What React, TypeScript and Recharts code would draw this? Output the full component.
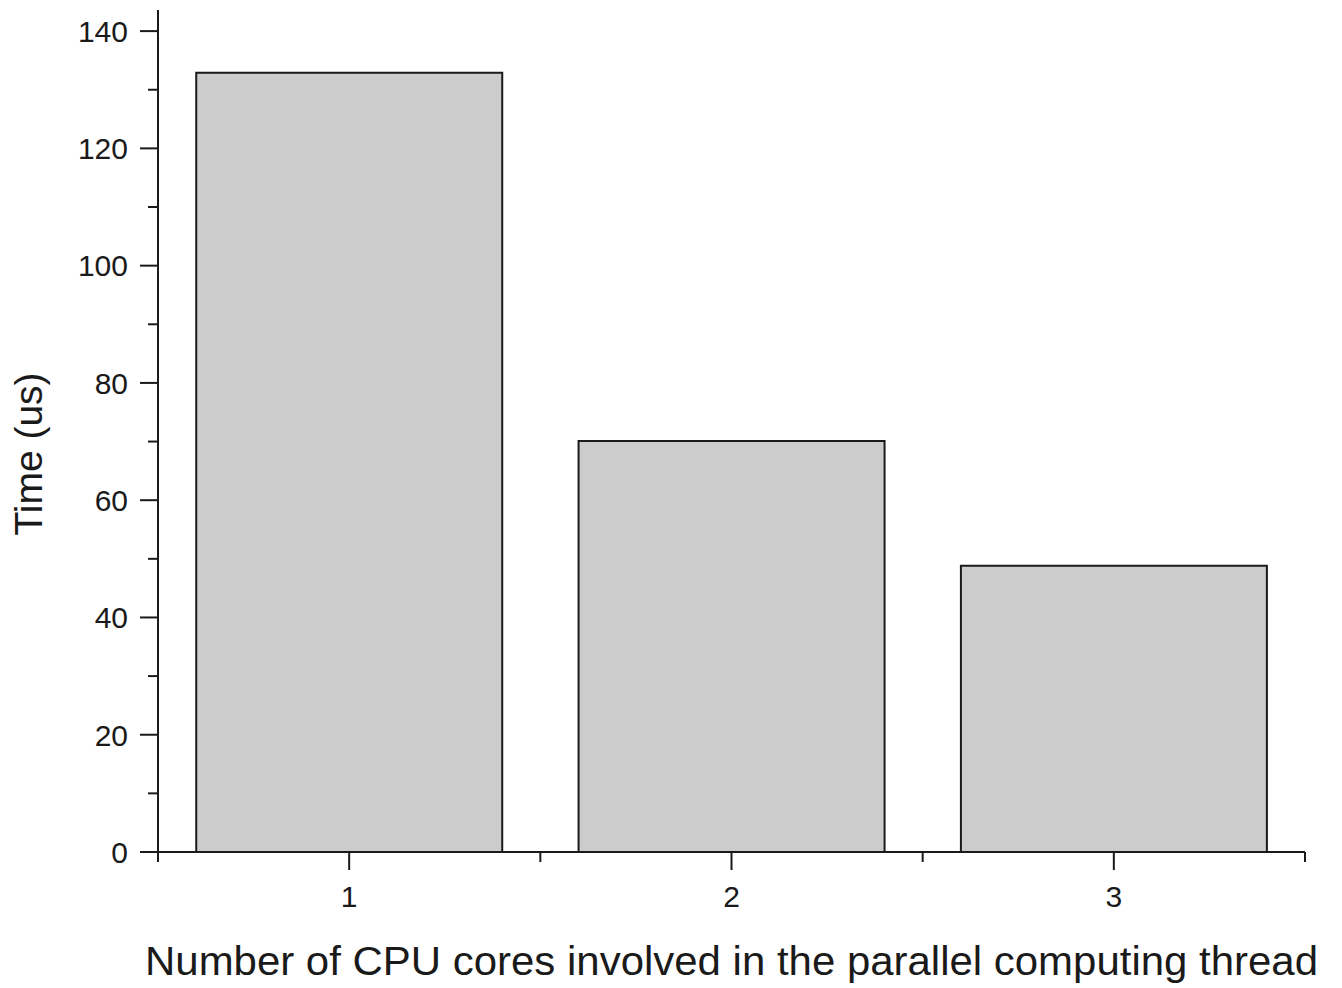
import React from "react";
import { BarChart, Bar, XAxis, YAxis } from "recharts";

const cores = ["1", "2", "3"];
const times = [132.9, 70.1, 48.8];
const yTicks = [0, 10, 20, 30, 40, 50, 60, 70, 80, 90, 100, 110, 120, 130, 140];

const data = cores.map((c, i) => ({ cores: c, time: times[i] }));

const FONT = '"Liberation Sans", Arial, sans-serif';
const INK = "#1a1a1a";
const W = 1342;
const H = 988;
const LEFT = 158;
const RIGHT = 37;
const BAND = (W - LEFT - RIGHT) / cores.length;

const YTick = (props: any) => {
  const { x, y, payload } = props;
  const major = payload.value % 20 === 0;
  return (
    <g>
      <line x1={x - (major ? 18 : 10)} x2={x} y1={y} y2={y} stroke={INK} strokeWidth={2} />
      {major && (
        <text x={x - 30} y={y} dy="0.36em" textAnchor="end" fontSize={30} fontFamily={FONT} fill={INK}>
          {payload.value}
        </text>
      )}
    </g>
  );
};

const XTick = (props: any) => {
  const { x, y, payload, index } = props;
  const last = index === cores.length - 1;
  return (
    <g>
      <line x1={x} x2={x} y1={y} y2={y + 18} stroke={INK} strokeWidth={2} />
      <line x1={x - BAND / 2} x2={x - BAND / 2} y1={y} y2={y + 10} stroke={INK} strokeWidth={2} />
      {last && <line x1={x + BAND / 2} x2={x + BAND / 2} y1={y} y2={y + 10} stroke={INK} strokeWidth={2} />}
      <text x={x} y={y + 55} textAnchor="middle" fontSize={30} fontFamily={FONT} fill={INK}>
        {payload.value}
      </text>
    </g>
  );
};

export default function App() {
  return (
    <div style={{ position: "absolute", left: 0, top: 0, width: W, height: H, background: "#fff" }}>
      <BarChart
        width={W}
        height={H}
        data={data}
        margin={{ top: 10, right: RIGHT, left: 0, bottom: 0 }}
        barCategoryGap="10%"
      >
        <XAxis
          dataKey="cores"
          height={136}
          padding={{ left: 0, right: 0 }}
          axisLine={{ stroke: INK, strokeWidth: 2 }}
          tickLine={false}
          tickSize={0}
          tickMargin={0}
          tick={<XTick />}
          interval={0}
          label={{
            content: () => (
              <text
                x={731.5}
                y={975}
                textAnchor="middle"
                fontSize={40}
                textLength={1173}
                lengthAdjust="spacingAndGlyphs"
                fontFamily={FONT}
                fill={INK}
              >
                Number of CPU cores involved in the parallel computing thread
              </text>
            ),
          }}
        />
        <YAxis
          width={LEFT}
          domain={[0, 143.6]}
          ticks={yTicks}
          interval={0}
          axisLine={{ stroke: INK, strokeWidth: 2 }}
          tickLine={false}
          tickSize={0}
          tickMargin={0}
          tick={<YTick />}
          label={{
            content: () => (
              <text
                x={42}
                y={454}
                transform="rotate(-90 42 454)"
                textAnchor="middle"
                fontSize={39}
                fontFamily={FONT}
                fill={INK}
              >
                Time (us)
              </text>
            ),
          }}
        />
        <Bar dataKey="time" fill="#cccccc" stroke={INK} strokeWidth={2} isAnimationActive={false} />
      </BarChart>
    </div>
  );
}
